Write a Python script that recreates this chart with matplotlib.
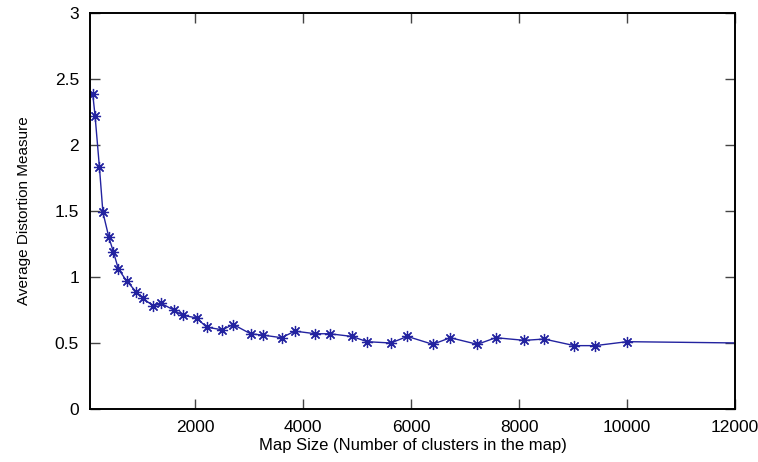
import matplotlib
matplotlib.use("Agg")
import matplotlib.pyplot as plt

plt.rcParams['font.family'] = ['Liberation Sans', 'DejaVu Sans']

map_size = [100, 144, 225, 289, 400, 484, 576, 729, 900, 1024, 1225, 1369,
            1600, 1764, 2025, 2209, 2500, 2704, 3025, 3249, 3600, 3844, 4225,
            4489, 4900, 5184, 5625, 5929, 6400, 6724, 7225, 7569, 8100, 8464,
            9025, 9409, 10000, 12100]
distortion = [2.39, 2.22, 1.83, 1.49, 1.30, 1.19, 1.06, 0.97, 0.89, 0.84,
              0.78, 0.80, 0.75, 0.71, 0.69, 0.62, 0.60, 0.64, 0.57, 0.56,
              0.54, 0.59, 0.57, 0.57, 0.55, 0.51, 0.50, 0.55, 0.49, 0.54,
              0.49, 0.54, 0.52, 0.53, 0.48, 0.48, 0.51, 0.50]

x_ticks = [2000, 4000, 6000, 8000, 10000, 12000]
y_ticks = [0, 0.5, 1, 1.5, 2, 2.5, 3]
y_tick_labels = ['0', '0.5', '1', '1.5', '2', '2.5', '3']

fig = plt.figure(figsize=(7.58, 4.62), dpi=100)
ax = fig.add_axes([90 / 758, 1 - 409 / 462, (735 - 90) / 758, (409 - 13) / 462])

ax.plot(map_size, distortion, color='#2323a0', linewidth=1.0,
        marker=(8, 2, 0), markersize=8, markeredgewidth=0.9,
        markevery=list(range(len(map_size) - 1)))

ax.set_xlim(50, 12000)
ax.set_ylim(0, 3)
ax.set_xticks(x_ticks)
ax.set_yticks(y_ticks)
ax.set_yticklabels(y_tick_labels)

ax.tick_params(direction='in', length=7, width=1.0, color='#444444',
               top=True, right=True, labelsize=12.5, pad=8)
for s in ax.spines.values():
    s.set_linewidth(1.4)
    s.set_color('black')

ax.set_xlabel('Map Size (Number of clusters in the map)', fontsize=12, labelpad=2)
ax.set_ylabel('Average Distortion Measure', fontsize=11, labelpad=17)

fig.savefig('out.png', dpi=100)
